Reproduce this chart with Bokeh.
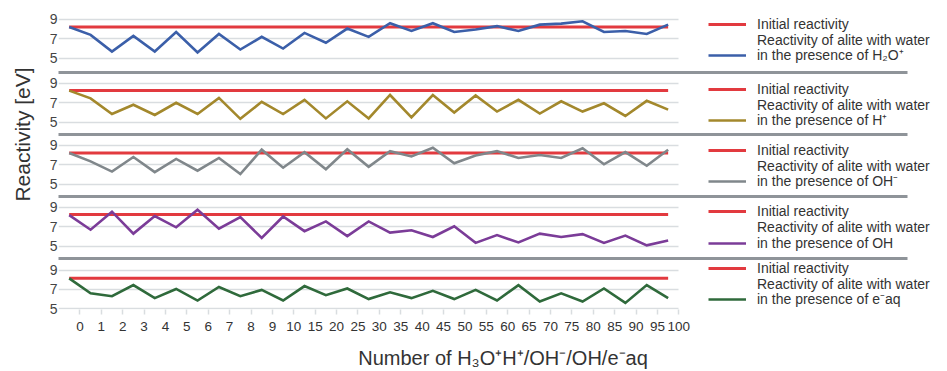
import numpy as np
from bokeh.plotting import figure
from bokeh.models import FixedTicker, Legend, LegendItem, Label, Range1d
from bokeh.layouts import row, column
from bokeh.embed import file_html
from bokeh.resources import INLINE

# ---------------- data ----------------
x_labels = ["0", "1", "2", "3", "4", "5", "6", "7", "8", "9", "10", "15", "20", "25",
            "30", "35", "40", "45", "50", "55", "60", "65", "70", "75", "80", "85",
            "90", "95", "100"]

h3o_plus = [8.2, 7.4, 5.7, 7.3, 5.7, 7.7, 5.6, 7.5, 5.9, 7.2, 6.0, 7.6, 6.6, 8.05, 7.2,
            8.6, 7.8, 8.6, 7.7, 7.95, 8.3, 7.8, 8.45, 8.55, 8.8, 7.7, 7.8, 7.5, 8.45]
h_plus = [8.25, 7.45, 5.85, 6.8, 5.75, 7.0, 5.85, 7.5, 5.35, 7.1, 5.85, 7.3, 5.4, 7.15, 5.4,
          7.8, 5.5, 7.8, 6.0, 7.75, 6.1, 7.3, 5.9, 7.15, 6.1, 6.95, 5.65, 7.2, 6.3]
oh_minus = [8.2, 7.35, 6.3, 7.8, 6.25, 7.6, 6.4, 7.7, 6.05, 8.55, 6.7, 8.3, 6.55, 8.6, 6.8,
            8.4, 7.85, 8.75, 7.15, 7.95, 8.4, 7.7, 8.0, 7.7, 8.7, 7.05, 8.3, 6.9, 8.55]
oh_radical = [8.2, 6.7, 8.55, 6.3, 8.1, 6.95, 8.75, 6.8, 8.0, 5.85, 8.05, 6.55, 7.55, 6.05, 7.55,
              6.4, 6.65, 5.95, 7.05, 5.35, 6.15, 5.4, 6.3, 5.95, 6.25, 5.35, 6.1, 5.1, 5.6]
e_aq = [8.15, 6.6, 6.3, 7.45, 6.1, 7.05, 5.85, 7.25, 6.3, 6.95, 5.85, 7.35, 6.4, 7.1, 6.0,
        6.7, 6.1, 6.85, 6.0, 6.95, 5.85, 7.45, 5.75, 6.6, 5.75, 7.1, 5.6, 7.45, 6.1]

initial_reactivity = [8.2, 8.25, 8.2, 8.25, 8.15]

series = [h3o_plus, h_plus, oh_minus, oh_radical, e_aq]
series_label_head = "Reactivity of alite with water"
series_label_tail = [
    "in the presence of H\u2082O\u207a",
    "in the presence of H\u207a",
    "in the presence of OH\u207b",
    "in the presence of OH",
    "in the presence of e\u207baq",
]
series_colors = ["#3b5fa9", "#a3882c", "#80878b", "#7b3c98", "#2f6a3b"]
init_label = "Initial reactivity"
init_color = "#e23a3f"

y_title = "Reactivity [eV]"
x_title = "Number of H\u2083O\u207aH\u207a/OH\u207b/OH/e\u207baq"

# ---------------- layout / style ----------------
FONT = "Liberation Sans"
GRID = "#d9dde0"
SEP = "#8f9499"

heights = [74, 62, 62, 62, 111]
tops = [9, 0, 0, 0, 0]
bottoms = [2, 2, 2, 2, 62]
frame_bottom_px = [72, 134, 196, 258, 309]          # screen y of each frame bottom
yranges = [(3.55, 10.0), (3.75, 9.9), (3.75, 9.9), (3.75, 9.9), (4.92, 10.0)]
# screen-y centres of the three legend rows (initial / head / tail) per panel
legend_rows = [(24, 40, 56), (89, 105, 121), (150, 166, 182), (211, 227, 243), (268, 284, 300)]
ITEM_H = 16

X0, X1 = -1.0, 40.56      # frame spans the whole width (legend inside)
SEP_END = 38.69           # separator ends where the legend area ends
DATA_END = 28.0
LEG_X = 650

n = len(x_labels)
idx = np.arange(n)
xpos = idx - 0.5


def make_legend(label, renderers, center_y, fb):
    lg = Legend(items=[LegendItem(label=label, renderers=renderers)],
                location=(LEG_X, fb - center_y - ITEM_H / 2))
    lg.padding = 0
    lg.margin = 0
    lg.spacing = 0
    lg.glyph_width = 38
    lg.glyph_height = ITEM_H
    lg.label_height = ITEM_H
    lg.label_standoff = 11
    lg.label_text_font = FONT
    lg.label_text_font_size = "14px"
    lg.label_text_color = "#333333"
    lg.border_line_color = None
    lg.background_fill_alpha = 0
    return lg


panels = []
for k in range(5):
    last = (k == 4)
    p = figure(width=911, height=heights[k],
               x_range=Range1d(X0, X1), y_range=Range1d(*yranges[k]),
               output_backend="svg", toolbar_location=None,
               min_border_left=22, min_border_right=0,
               min_border_top=tops[k], min_border_bottom=bottoms[k])
    p.outline_line_color = None
    p.background_fill_color = "white"
    p.border_fill_color = "white"

    r_init = p.line([xpos[0], xpos[-1]], [initial_reactivity[k], initial_reactivity[k]],
                    line_color=init_color, line_width=3)
    r_ser = p.line(xpos, series[k], line_color=series_colors[k], line_width=2.6,
                   line_join="miter")

    # y axis
    p.yaxis.ticker = FixedTicker(ticks=[5, 7, 9])
    p.yaxis.axis_line_color = None
    p.yaxis.major_tick_line_color = None
    p.yaxis.minor_tick_line_color = None
    p.yaxis.major_tick_out = 0
    p.yaxis.major_tick_in = 0
    p.yaxis.minor_tick_out = 0
    p.yaxis.major_label_text_font = FONT
    p.yaxis.major_label_text_font_size = "14px"
    p.yaxis.major_label_text_color = "#444444"
    p.yaxis.major_label_standoff = 1

    p.xgrid.visible = False
    p.ygrid.grid_line_color = GRID
    p.ygrid.grid_line_width = 1.5
    for g in p.ygrid:
        if hasattr(g, "cross_bounds"):
            g.cross_bounds = (X0, DATA_END)

    if not last:
        p.xaxis.ticker = FixedTicker(ticks=[])
        p.xaxis.bounds = (X0, SEP_END)
        p.xaxis.axis_line_color = SEP
        p.xaxis.axis_line_width = 3
        p.xaxis.major_tick_line_color = None
        p.xaxis.minor_tick_line_color = None
        p.xaxis.major_tick_out = 0
        p.xaxis.major_label_standoff = 0
        p.xaxis.major_label_text_font_size = "0px"
    else:
        p.xaxis.ticker = FixedTicker(ticks=list(idx))
        p.xaxis.major_label_overrides = {int(i): lab for i, lab in zip(idx, x_labels)}
        p.xaxis.axis_line_color = None
        p.xaxis.major_tick_line_color = GRID
        p.xaxis.major_tick_line_width = 1.5
        p.xaxis.major_tick_out = 5
        p.xaxis.major_tick_in = 0
        p.xaxis.minor_tick_line_color = None
        p.xaxis.major_label_standoff = 7
        p.xaxis.major_label_text_font = FONT
        p.xaxis.major_label_text_font_size = "13.5px"
        p.xaxis.major_label_text_color = "#333333"
        p.xaxis.axis_label = x_title
        p.xaxis.axis_label_text_font = FONT
        p.xaxis.axis_label_text_font_size = "20px"
        p.xaxis.axis_label_text_font_style = "normal"
        p.xaxis.axis_label_text_color = "#333333"
        p.xaxis.axis_label_standoff = 13

    fb = frame_bottom_px[k]
    c_init, c_head, c_tail = legend_rows[k]
    p.add_layout(make_legend(init_label, [r_init], c_init, fb))
    p.add_layout(make_legend(series_label_head, [], c_head, fb))
    p.add_layout(make_legend(series_label_tail[k], [r_ser], c_tail, fb))
    panels.append(p)

# y-axis title column
t = figure(width=36, height=371, x_range=Range1d(0, 1), y_range=Range1d(0, 1),
           output_backend="svg", toolbar_location=None,
           min_border_left=0, min_border_right=0, min_border_top=0, min_border_bottom=0)
t.axis.visible = False
t.grid.visible = False
t.outline_line_color = None
t.add_layout(Label(x=22 / 36, y=1 - 134 / 371, text=y_title, angle=np.pi / 2,
                   text_align="center", text_baseline="middle",
                   text_font=FONT, text_font_size="21px", text_color="#333333"))

layout = row(t, column(*panels, spacing=0), spacing=0)
open("out.html", "w").write(file_html(layout, INLINE))
